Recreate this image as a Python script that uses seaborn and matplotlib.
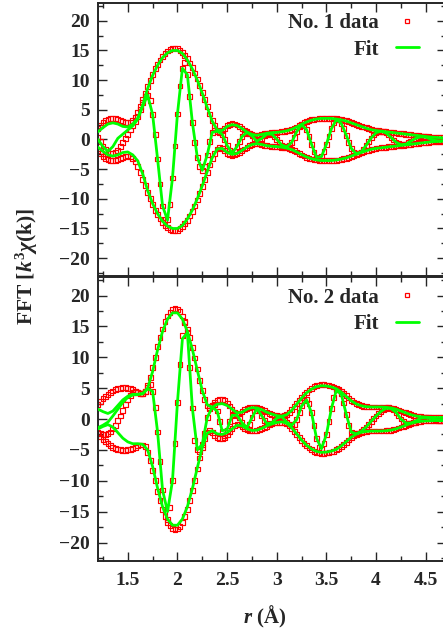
import numpy as np
import matplotlib
matplotlib.use("Agg")
import matplotlib.pyplot as plt
from matplotlib.lines import Line2D
from matplotlib.ticker import MultipleLocator, FuncFormatter
import seaborn as sns

# r grids: data sampled every 0.025 A, fit every 0.05 A (1.2 .. 4.7)
r_data = np.round(1.2 + 0.025 * np.arange(141), 3)
r_fit = np.round(1.2 + 0.05 * np.arange(71), 3)

# ---- sample No. 1 ----
data1_mag = [1.8, 2.4, 2.9, 3.2, 3.4, 3.5, 3.55, 3.5, 3.4, 3.2,
             3.0, 2.85, 2.8, 2.9, 3.2, 3.8, 4.6, 5.6, 6.7, 7.8,
             8.9, 10.0, 11.0, 11.9, 12.7, 13.4, 14.0, 14.5, 14.9, 15.2,
             15.35, 15.4, 15.3, 15.05, 14.7, 14.2, 13.6, 12.9, 12.1, 11.2,
             10.2, 9.1, 7.9, 6.7, 5.5, 4.3, 3.2, 2.3, 1.6, 1.3,
             1.5, 1.9, 2.3, 2.55, 2.65, 2.6, 2.45, 2.2, 1.9, 1.6,
             1.3, 1.05, 0.85, 0.75, 0.7, 0.75, 0.85, 0.95, 1.05, 1.1,
             1.15, 1.2, 1.2, 1.25, 1.3, 1.35, 1.45, 1.55, 1.7, 1.9,
             2.1, 2.35, 2.6, 2.8, 3.0, 3.15, 3.3, 3.4, 3.45, 3.5,
             3.55, 3.6, 3.6, 3.6, 3.6, 3.55, 3.5, 3.45, 3.35, 3.25,
             3.15, 3.0, 2.85, 2.7, 2.55, 2.4, 2.25, 2.1, 1.95, 1.8,
             1.7, 1.6, 1.5, 1.45, 1.4, 1.35, 1.3, 1.25, 1.2, 1.15,
             1.1, 1.05, 1.0, 0.95, 0.9, 0.85, 0.8, 0.75, 0.7, 0.65,
             0.6, 0.55, 0.5, 0.45, 0.4, 0.38, 0.35, 0.32, 0.3, 0.28,
             0.27]
data1_re = [0.3, -0.4, -1.1, -1.7, -2.1, -2.35, -2.4, -2.2, -1.8, -1.2,
            -0.5, 0.2, 0.9, 1.6, 2.3, 3.0, 3.9, 5.0, 6.2, 7.3,
            7.5, 6.5, 4.2, 0.8, -3.3, -7.5, -11.2, -13.5, -13.5, -10.9,
            -6.5, -1.1, 4.3, 9.0, 12.0, 13.0, 10.9, 7.3, 2.9, -0.5,
            -3.0, -4.6, -5.2, -4.5, -2.6, -0.4, 1.2, 1.6, 1.4, 1.2,
            0.9, 0.0, -1.0, -1.9, -2.4, -2.0, -1.2, -0.3, 0.5, 1.0,
            1.2, 1.0, 0.6, 0.1, -0.3, -0.2, 0.2, 0.6, 0.9, 1.0,
            0.9, 0.55, 0.05, -0.5, -0.95, -1.2, -1.25, -1.0, -0.5, 0.35,
            1.3, 2.1, 2.5, 2.35, 1.65, 0.5, -0.8, -2.1, -3.0, -3.3,
            -2.9, -2.05, -0.8, 0.55, 1.8, 2.8, 3.35, 3.3, 2.7, 1.8,
            0.7, -0.45, -1.5, -2.2, -2.4, -2.35, -2.1, -1.6, -1.0, -0.4,
            0.25, 0.75, 1.15, 1.35, 1.4, 1.3, 1.1, 0.75, 0.35, -0.1,
            -0.45, -0.7, -0.88, -0.9, -0.8, -0.55, -0.27, 0.0, 0.2, 0.35,
            0.45, 0.5, 0.38, 0.22, 0.06, -0.08, -0.18, -0.23, -0.25, -0.22,
            -0.15]
fit1_mag = [1.3, 2.0, 2.6, 2.8, 2.6, 2.2, 2.1, 2.6, 3.6, 5.8,
            8.6, 10.8, 12.5, 13.8, 14.6, 15.0, 15.0, 14.5, 13.4, 11.9,
            10.0, 7.8, 5.4, 3.1, 1.6, 1.5, 2.2, 2.5, 2.35, 1.85,
            1.25, 0.85, 0.7, 0.85, 1.05, 1.15, 1.2, 1.3, 1.45, 1.7,
            2.1, 2.55, 2.95, 3.25, 3.45, 3.55, 3.55, 3.55, 3.45, 3.3,
            3.1, 2.8, 2.5, 2.2, 1.9, 1.65, 1.5, 1.4, 1.3, 1.2,
            1.1, 1.0, 0.9, 0.8, 0.7, 0.6, 0.5, 0.4, 0.35, 0.3,
            0.27]
fit1_re = [0.0, -1.2, -2.0, -1.2, 0.2, 0.9, 1.6, 2.3, 3.4, 5.6,
           7.5, 4.2, -3.3, -11.2, -13.6, -6.5, 4.3, 12.0, 10.9, 2.9,
           -3.0, -5.2, -2.6, 1.2, 1.4, 0.9, -1.0, -2.3, -1.2, 0.5,
           1.2, 0.6, -0.3, 0.2, 0.9, 0.9, 0.05, -0.95, -1.25, -0.5,
           1.3, 2.5, 1.65, -0.8, -3.0, -2.9, -0.8, 1.8, 3.35, 2.7,
           0.7, -1.5, -2.4, -2.1, -1.0, 0.25, 1.15, 1.4, 1.1, 0.35,
           -0.45, -0.88, -0.8, -0.27, 0.2, 0.45, 0.38, 0.06, -0.18, -0.25,
           -0.15]

# ---- sample No. 2 ----
data2_mag = [2.4, 2.9, 3.3, 3.7, 4.0, 4.3, 4.55, 4.75, 4.9, 5.0,
             5.05, 5.05, 5.0, 4.9, 4.75, 4.55, 4.35, 4.2, 4.2, 4.5,
             5.4, 6.7, 8.3, 10.0, 11.7, 13.2, 14.6, 15.8, 16.7, 17.3,
             17.7, 17.9, 17.8, 17.4, 16.7, 15.8, 14.6, 13.2, 11.6, 9.9,
             8.1, 6.3, 4.6, 3.1, 2.1, 1.8, 2.2, 2.7, 3.0, 3.2,
             3.2, 3.0, 2.6, 2.1, 1.5, 1.0, 0.8, 0.9, 1.2, 1.5,
             1.75, 1.9, 1.95, 1.95, 1.9, 1.75, 1.55, 1.35, 1.15, 0.95,
             0.8, 0.65, 0.55, 0.5, 0.5, 0.6, 0.8, 1.1, 1.5, 2.0,
             2.5, 3.0, 3.5, 3.95, 4.35, 4.7, 5.0, 5.25, 5.4, 5.5,
             5.55, 5.55, 5.5, 5.45, 5.35, 5.2, 5.0, 4.75, 4.45, 4.1,
             3.75, 3.4, 3.05, 2.75, 2.5, 2.3, 2.15, 2.05, 2.0, 1.95,
             1.95, 1.95, 1.95, 1.95, 1.95, 1.95, 1.9, 1.85, 1.8, 1.7,
             1.6, 1.45, 1.3, 1.15, 1.0, 0.85, 0.7, 0.6, 0.5, 0.42,
             0.36, 0.32, 0.3, 0.28, 0.27, 0.26, 0.25, 0.25, 0.25, 0.25,
             0.25]
data2_re = [-2.2, -2.4, -2.5, -2.5, -2.4, -2.1, -1.6, -1.0, -0.3, 0.5,
            1.4, 2.3, 3.1, 3.8, 4.3, 4.5, 4.3, 4.1, 4.1, 4.4,
            5.2, 5.6, 4.5, 1.85, -2.1, -6.9, -11.5, -15.0, -16.3, -14.3,
            -10.0, -4.0, 2.7, 8.8, 13.5, 15.6, 14.1, 8.4, 1.8, -3.5,
            -5.0, -5.3, -4.1, -2.3, 0.25, 1.7, 2.1, 2.3, 1.3, -0.35,
            -2.0, -2.7, -1.9, -0.4, 0.6, 0.7, 0.6, 0.2, -0.6, -1.3,
            -1.5, -0.9, 0.23, 1.3, 1.8, 1.3, 0.5, -0.3, -0.75, -0.8,
            -0.65, -0.25, 0.15, 0.35, 0.4, 0.1, -0.5, -0.8, -1.0, -0.9,
            -0.1, 1.1, 2.2, 2.95, 3.1, 2.5, 1.0, -1.05, -3.1, -4.6,
            -4.85, -4.0, -2.5, -0.4, 1.7, 3.5, 4.7, 4.7, 4.1, 2.6,
            0.75, -1.05, -2.1, -2.4, -2.4, -2.25, -2.0, -1.7, -1.3, -0.85,
            -0.37, 0.1, 0.5, 0.9, 1.25, 1.55, 1.75, 1.85, 1.75, 1.5,
            1.1, 0.55, 0.0, -0.45, -0.65, -0.7, -0.65, -0.55, -0.3, -0.05,
            0.15, 0.25, 0.28, 0.25, 0.15, 0.02, -0.1, -0.18, -0.22, -0.2,
            -0.14]
fit2_mag = [1.6, 1.2, 0.9, 1.3, 2.2, 3.1, 3.7, 4.0, 4.0, 4.1,
            5.0, 7.7, 11.2, 14.2, 16.2, 17.2, 17.2, 16.2, 14.2, 11.3,
            7.9, 4.6, 2.3, 1.9, 2.4, 2.5, 2.2, 1.6, 1.0, 1.1,
            1.6, 1.85, 1.8, 1.5, 1.1, 0.8, 0.55, 0.45, 0.7, 1.4,
            2.4, 3.4, 4.25, 4.85, 5.25, 5.4, 5.35, 5.2, 4.9, 4.35,
            3.65, 2.95, 2.45, 2.15, 2.0, 1.95, 1.95, 1.95, 1.9, 1.8,
            1.6, 1.3, 1.0, 0.7, 0.5, 0.36, 0.3, 0.27, 0.25, 0.25,
            0.25]
fit2_re = [-1.4, -1.0, -0.5, 0.5, 1.6, 2.7, 3.5, 3.9, 4.0, 4.1,
           4.9, 4.5, -2.1, -11.5, -15.0, -10.0, 2.7, 13.0, 14.0, 1.8,
           -5.0, -4.1, 0.25, 1.9, 1.3, -1.9, -1.7, 0.6, 0.6, -0.6,
           -1.4, 0.2, 1.7, 0.5, -0.75, -0.6, 0.15, 0.4, -0.5, -1.0,
           -0.1, 2.1, 3.1, 1.0, -3.1, -4.8, -2.5, 1.7, 4.7, 4.0,
           0.75, -2.1, -2.4, -2.0, -1.3, -0.37, 0.5, 1.25, 1.75, 1.7,
           1.1, 0.0, -0.65, -0.65, -0.3, 0.15, 0.28, 0.15, -0.1, -0.22,
           -0.14]

data_labels = ["No. 1 data", "No. 2 data"]
fit_label = "Fit"

RED = "#ff0000"
GREEN = "#00ff00"

sns.set_style("ticks")
plt.rcParams["font.family"] = ["Liberation Serif", "DejaVu Serif"]
plt.rcParams["font.weight"] = "bold"
plt.rcParams["mathtext.fontset"] = "custom"
plt.rcParams["mathtext.rm"] = "Liberation Serif:bold"
plt.rcParams["mathtext.it"] = "Liberation Serif:italic:bold"
plt.rcParams["mathtext.bf"] = "Liberation Serif:bold"
plt.rcParams["axes.unicode_minus"] = True

fig = plt.figure(figsize=(4.43, 6.35), dpi=100)
ax1 = fig.add_axes([0.2212, 0.5654, 0.7847, 0.4299])
ax2 = fig.add_axes([0.2212, 0.1165, 0.7847, 0.4472])


def fmt(v, pos):
    s = "%g" % v
    return s.replace("-", "\u2212")


def draw_panel(ax, mag, re, fmag, fre, label):
    mag = np.asarray(mag)
    fmag = np.asarray(fmag)
    for y in (mag, -mag, np.asarray(re)):
        sns.scatterplot(x=r_data, y=y, ax=ax, marker="s", s=12,
                        facecolor="none", edgecolor=RED, linewidth=0.85,
                        legend=False, zorder=2)
    for y in (fmag, -fmag, np.asarray(fre)):
        sns.lineplot(x=r_fit, y=y, ax=ax, color=GREEN, linewidth=2.0,
                     sort=False, estimator=None, zorder=3)

    ax.set_xlim(1.2, 4.7)
    ax.set_ylim(-23, 23)
    ax.xaxis.set_major_locator(MultipleLocator(0.5))
    ax.xaxis.set_minor_locator(MultipleLocator(0.25))
    ax.yaxis.set_major_locator(MultipleLocator(5))
    ax.yaxis.set_minor_locator(MultipleLocator(2.5))
    ax.xaxis.set_major_formatter(FuncFormatter(fmt))
    ax.yaxis.set_major_formatter(FuncFormatter(fmt))
    ax.tick_params(which="both", direction="in", top=True, right=True,
                   width=1.0, labelsize=14, pad=6)
    ax.tick_params(which="major", length=6.5)
    ax.tick_params(which="minor", length=3.5)
    for sp in ax.spines.values():
        sp.set_linewidth(1.4)
    ax.set_xlabel("")
    ax.set_ylabel("")

    handles = [Line2D([], [], ls="none", marker="s", mfc="none", mec=RED,
                      ms=3.2, mew=0.9),
               Line2D([], [], color=GREEN, lw=2.0)]
    ax.legend(handles, [label, fit_label], loc="upper right",
              bbox_to_anchor=(0.94, 0.985), borderaxespad=0,
              markerfirst=False, frameon=False, fontsize=15,
              handlelength=1.1, handletextpad=0.8, labelspacing=0.3,
              borderpad=0.3)


draw_panel(ax1, data1_mag, data1_re, fit1_mag, fit1_re, data_labels[0])
draw_panel(ax2, data2_mag, data2_re, fit2_mag, fit2_re, data_labels[1])
ax1.tick_params(labelbottom=False)
ax2.tick_params(axis="x", pad=8)

fig.text(27 / 443, 1 - 266 / 635, r"FFT [$k^{3}\chi$(k)]", rotation=90,
         ha="center", va="center", fontsize=15.5, fontweight="bold")
fig.text(265 / 443, 1 - 617 / 635, r"$r$ (Å)", ha="center", va="center",
         fontsize=15, fontweight="bold")

fig.savefig("out.png", dpi=100)
